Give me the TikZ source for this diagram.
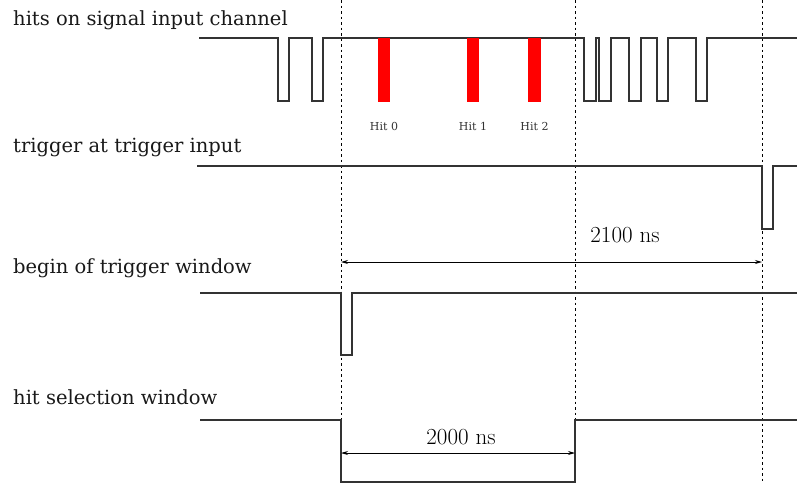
\documentclass[tikz,border=0pt]{standalone}
\usepackage{fontspec}
\newfontfamily\labelfont{DejaVu Serif}
\usetikzlibrary{arrows.meta}
\begin{document}
\begin{tikzpicture}[x=1pt,y=-1pt,
  sig/.style={line width=1.1pt,color=black!80,line join=miter},
  guide/.style={line width=0.8pt,dash pattern=on 2.5pt off 3pt,color=black},
  hitbar/.style={fill=red,draw=none},
  rowlabel/.style={anchor=base west,inner sep=0pt,font=\labelfont\fontsize{19.5}{23}\selectfont,color=black!90},
  hitlabel/.style={anchor=base,inner sep=0pt,font=\labelfont\fontsize{11}{13}\selectfont,color=black!80},
  dim/.style={line width=0.8pt,{Stealth[length=7pt,width=4pt]}-{Stealth[length=7pt,width=4pt]}},
  dimlabel/.style={inner sep=0pt,font=\fontsize{23}{27}\selectfont}]
\useasboundingbox (0,0) rectangle (797,483);
% guides
\draw[guide] (341,0) -- (341,483);
\draw[guide] (575,0) -- (575,483);
\draw[guide] (762,0) -- (762,483);
% row labels
\node[rowlabel] (l1) at (13,25) {hits on signal input channel};
\node[rowlabel] (l2) at (13,152) {trigger at trigger input};
\node[rowlabel] (l3) at (13,273) {begin of trigger window};
\node[rowlabel] (l4) at (13,404) {hit selection window};
% row 1
\draw[sig] (199,38) -- (278,38) -- (278,101) -- (289,101) -- (289,38)
  -- (312,38) -- (312,101) -- (323,101) -- (323,38)
  -- (584,38) -- (584,101) -- (596,101) -- (596,38)
  -- (599,38) -- (599,101) -- (611,101) -- (611,38)
  -- (629,38) -- (629,101) -- (641,101) -- (641,38)
  -- (657,38) -- (657,101) -- (668,101) -- (668,38)
  -- (696,38) -- (696,101) -- (707,101) -- (707,38) -- (797,38);
\fill[hitbar] (378,38) rectangle (390,102);
\fill[hitbar] (467,38) rectangle (479,102);
\fill[hitbar] (528,38) rectangle (541,102);
\node[hitlabel] (h0) at (384,130) {Hit 0};
\node[hitlabel] (h1) at (473,130) {Hit 1};
\node[hitlabel] (h2) at (534.5,130) {Hit 2};
% row 2
\draw[sig] (197,166) -- (762,166) -- (762,229) -- (773,229) -- (773,166) -- (797,166);
\coordinate (a1) at (341,262);
\coordinate (a2) at (762,262);
\draw[dim] (a1) -- (a2);
\node[dimlabel] (d1) at (625,235) {2100 ns};
% row 3
\draw[sig] (200,293) -- (341,293) -- (341,355) -- (352,355) -- (352,293) -- (797,293);
% row 4
\draw[sig] (200,420) -- (341,420) -- (341,482) -- (575,482) -- (575,420) -- (797,420);
\coordinate (b1) at (341,453);
\coordinate (b2) at (575,453);
\draw[dim] (b1) -- (b2);
\node[dimlabel] (d2) at (461,437) {2000 ns};
\end{tikzpicture}
\end{document}
